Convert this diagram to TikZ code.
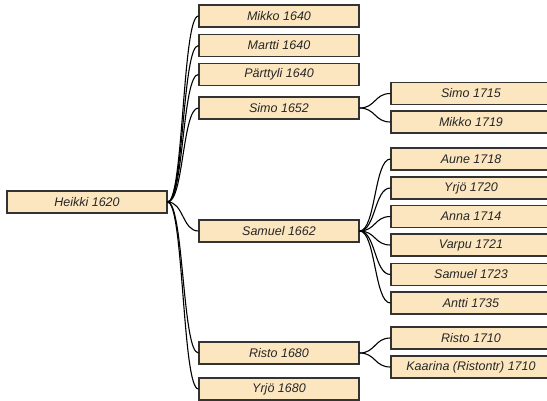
\documentclass[tikz,border=0pt]{standalone}
\usepackage{fontspec}
\setmainfont{Liberation Sans}
\begin{document}
\begin{tikzpicture}[x=1pt,y=-1pt,
  person/.style={draw=black!80,line width=1.2pt,fill=boxfill,rectangle,minimum width=160pt,minimum height=22pt,inner sep=0pt,font=\fontsize{12.5}{14}\selectfont\itshape,text=black!85},
  link/.style={draw=black,line width=1.1pt}]
\definecolor{boxfill}{HTML}{FCE6BF}
\useasboundingbox (0,0) rectangle (547,400);
\clip (0,0) rectangle (547,400);
\node[person] (heikki) at (87,202) {Heikki 1620};
\node[person] (mikko) at (279,16) {Mikko 1640};
\node[person] (martti) at (279,45.5) {Martti 1640};
\node[person] (parttyli) at (279,74.5) {Pärttyli 1640};
\node[person] (simo) at (279,108) {Simo 1652};
\node[person] (samuel) at (279,231) {Samuel 1662};
\node[person] (risto) at (279,353) {Risto 1680};
\node[person] (yrjo) at (279,389) {Yrjö 1680};
\node[person] (simoB) at (471,93.5) {Simo 1715};
\node[person] (mikkoB) at (471,122) {Mikko 1719};
\node[person] (aune) at (471,159) {Aune 1718};
\node[person] (yrjoB) at (471,188) {Yrjö 1720};
\node[person] (anna) at (471,216.5) {Anna 1714};
\node[person] (varpu) at (471,245) {Varpu 1721};
\node[person] (samuelB) at (471,274.5) {Samuel 1723};
\node[person] (antti) at (471,303) {Antti 1735};
\node[person] (ristoB) at (471,338) {Risto 1710};
\node[person] (kaarina) at (471,367) {Kaarina (Ristontr) 1710};
\foreach \p/\c in {heikki/mikko,heikki/martti,heikki/parttyli,heikki/simo,heikki/samuel,heikki/risto,heikki/yrjo,
  simo/simoB,simo/mikkoB,
  samuel/aune,samuel/yrjoB,samuel/anna,samuel/varpu,samuel/samuelB,samuel/antti,
  risto/ristoB,risto/kaarina}
  \draw[link] (\p.east) .. controls +(16,0) and +(-16,0) .. (\c.west);
\end{tikzpicture}
\end{document}
